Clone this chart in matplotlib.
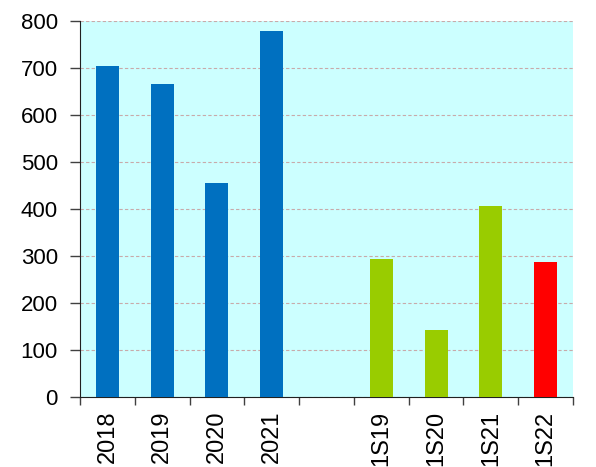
import matplotlib.pyplot as plt
import numpy as np

plt.rcParams['font.family'] = ['Liberation Sans', 'DejaVu Sans']

categories = ['2018', '2019', '2020', '2021', '', '1S19', '1S20', '1S21', '1S22']
values = [705, 667, 455, 778, 0, 293, 142, 407, 288]
colors = ['#0070C0', '#0070C0', '#0070C0', '#0070C0', '#0070C0',
          '#99CC00', '#99CC00', '#99CC00', '#FF0000']

fig = plt.figure(figsize=(5.96, 4.67), dpi=100)
ax = fig.add_axes([80 / 596, 70 / 467, 493 / 596, 376 / 467])
ax.set_facecolor('#CCFFFF')

x = np.arange(len(categories))
ax.bar(x, values, width=0.42, color=colors, zorder=3)

ax.set_xlim(-0.5, len(categories) - 0.5)
ax.set_ylim(0, 800)
ax.set_yticks(range(0, 801, 100))
ax.yaxis.grid(True, linestyle=(0, (3, 2)), color='#c8aaaa', linewidth=0.8, zorder=1)

# boundary ticks on x, labels at the centres
ax.set_xticks(np.arange(-0.5, len(categories)), minor=False)
ax.set_xticklabels([])
ax.set_xticks(x, minor=True)
ax.set_xticklabels(categories, minor=True, rotation=90, va='top')
ax.tick_params(axis='x', which='minor', length=0, pad=10, labelsize=17)
ax.tick_params(axis='x', which='major', length=6, width=1, color='#404040')
ax.tick_params(axis='y', length=7, width=1, color='#404040', pad=9, labelsize=16)

for s in ['top', 'right']:
    ax.spines[s].set_visible(False)
ax.spines['left'].set_color('#202020')
ax.spines['bottom'].set_color('#202020')

fig.savefig('out.png', dpi=100)
